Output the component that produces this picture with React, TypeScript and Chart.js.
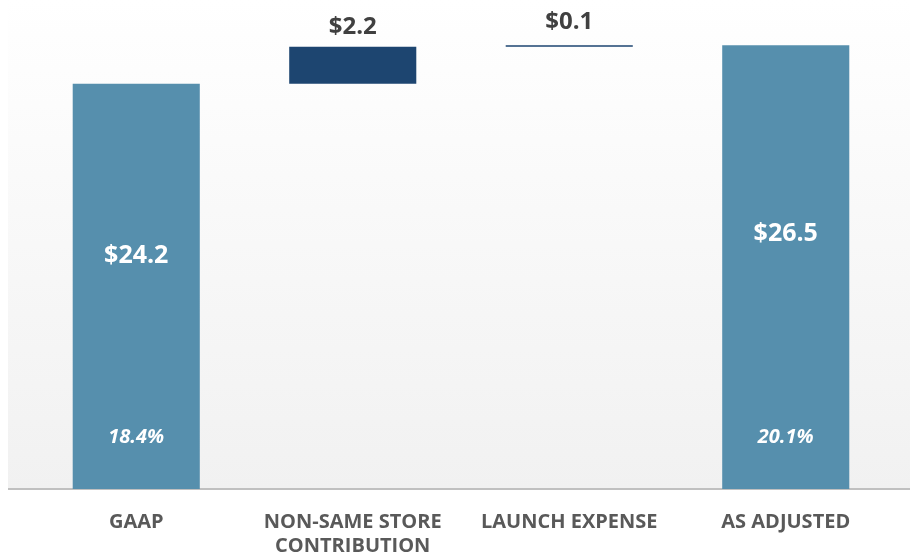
import React, { useEffect, useRef } from "react";
import { Chart, registerables } from "chart.js";

Chart.register(...registerables);

const categories: string[][] = [["GAAP"], ["NON-SAME STORE", "CONTRIBUTION"], ["LAUNCH EXPENSE"], ["AS ADJUSTED"]];
const totals = [24.2, null, null, 26.5];
const adjustments = [null, 2.2, 0.1, null];
const valueLabels = ["$24.2", "$2.2", "$0.1", "$26.5"];
const marginLabels = ["18.4%", "", "", "20.1%"];

const FONT = "'Open Sans', sans-serif";

function buildRanges(): [number, number][] {
  const out: [number, number][] = [];
  let running = 0;
  for (let i = 0; i < categories.length; i++) {
    const t = totals[i];
    const a = adjustments[i];
    if (t !== null) {
      out.push([0, t]);
      running = t;
    } else if (a !== null) {
      out.push([running, running + a]);
      running = running + a;
    }
  }
  return out;
}

export default function App() {
  const ref = useRef<HTMLCanvasElement>(null);
  useEffect(() => {
    document.body.style.margin = "0";
    const ranges = buildRanges();
    const bgPlugin = {
      id: "bg",
      beforeDraw(chart: any) {
        const { ctx, chartArea } = chart;
        const g = ctx.createLinearGradient(0, 0, 0, chartArea.bottom);
        g.addColorStop(0, "#ffffff");
        g.addColorStop(1, "#f1f1f1");
        ctx.save();
        ctx.fillStyle = g;
        ctx.fillRect(8, 0, chart.width - 8, chartArea.bottom);
        ctx.strokeStyle = "#c0c0c0";
        ctx.lineWidth = 2;
        ctx.beginPath();
        ctx.moveTo(8, chartArea.bottom);
        ctx.lineTo(chart.width, chartArea.bottom);
        ctx.stroke();
        ctx.restore();
      },
    };
    const labelPlugin = {
      id: "labels",
      afterDatasetsDraw(chart: any) {
        const { ctx } = chart;
        const meta = chart.getDatasetMeta(0);
        const y = chart.scales.y;
        ctx.save();
        ctx.textAlign = "center";
        ctx.textBaseline = "middle";
        meta.data.forEach((bar: any, i: number) => {
          const r = ranges[i];
          if (totals[i] !== null) {
            ctx.fillStyle = "#ffffff";
            ctx.font = `bold 25px ${FONT}`;
            ctx.fillText(valueLabels[i], bar.x, y.getPixelForValue(r[1] * 0.575));
            ctx.font = `italic bold 20px ${FONT}`;
            ctx.fillText(marginLabels[i], bar.x, y.getPixelForValue(3.1));
          } else {
            ctx.fillStyle = "#404040";
            ctx.font = `bold 24px ${FONT}`;
            ctx.fillText(valueLabels[i], bar.x, Math.min(bar.y, bar.base) - (i === 2 ? 23 : 20));
          }
        });
        ctx.restore();
      },
    };
    const chart = new Chart(ref.current!, {
      type: "bar",
      data: {
        labels: categories,
        datasets: [
          {
            data: ranges as any,
            backgroundColor: ["#568fad", "#1d4570", "#1d4570", "#568fad"],
            borderSkipped: false,
            barPercentage: 0.587,
            categoryPercentage: 1,
          },
        ],
      },
      options: {
        animation: false,
        responsive: false,
        maintainAspectRatio: false,
        layout: { padding: { left: 28, right: 16, top: 20, bottom: -22 } },
        plugins: { legend: { display: false }, tooltip: { enabled: false } },
        scales: {
          y: { display: false, min: 0, max: 28 },
          x: {
            grid: { display: false, drawTicks: false },
            border: { display: false },
            ticks: {
              color: "#595959",
              font: { family: FONT, size: 20, weight: "bold", lineHeight: 1.2 },
              padding: 21,
              maxRotation: 0,
              autoSkip: false,
            },
          },
        },
      },
      plugins: [bgPlugin, labelPlugin],
    });
    return () => chart.destroy();
  }, []);
  return (
    <div style={{ width: 910, height: 557 }}>
      <canvas ref={ref} width={910} height={557} style={{ display: "block" }} />
    </div>
  );
}
